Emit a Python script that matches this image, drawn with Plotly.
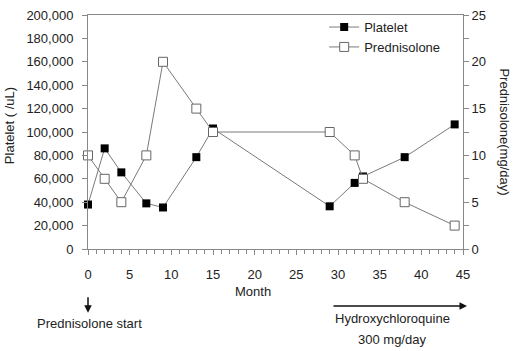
import plotly.graph_objects as go

months = [0, 2, 4, 7, 9, 13, 15, 29, 32, 33, 38, 44]
platelet = [38000, 86000, 65500, 39000, 35500, 78500, 103000, 36500, 56500, 62000, 78500, 106500]
prednisolone = [10, 7.5, 5, 10, 20, 15, 12.5, 12.5, 10, 7.5, 5, 2.5]

W, H = 514, 351
L, R, T, B = 87.5, 463, 8, 249.3

def px(x):
    return (x - L) / (R - L)

def py(y):
    return (B - y) / (B - T)

FONT = "Liberation Sans, Arial, sans-serif"
TXT = "#222222"
AX = "#888888"

fig = go.Figure()
fig.add_trace(go.Scatter(
    x=months, y=platelet, name="Platelet", mode="lines+markers",
    line=dict(color="#7a7a7a", width=1),
    marker=dict(symbol="square", size=8, color="#000000", line=dict(color="#000000", width=0)),
    cliponaxis=False, yaxis="y"))
fig.add_trace(go.Scatter(
    x=months, y=prednisolone, name="Prednisolone", mode="lines+markers",
    line=dict(color="#7a7a7a", width=1),
    marker=dict(symbol="square", size=9, color="#ffffff", line=dict(color="#666666", width=1)),
    cliponaxis=False, yaxis="y2"))

fig.update_layout(
    width=W, height=H,
    margin=dict(l=L, r=W - R, t=T, b=H - B, pad=0),
    paper_bgcolor="white", plot_bgcolor="white",
    font=dict(family=FONT, size=13, color=TXT),
    showlegend=True,
    legend=dict(x=px(324), y=py(5), xanchor="left", yanchor="top",
                bgcolor="rgba(0,0,0,0)", font=dict(size=13, color=TXT),
                itemwidth=30, tracegroupgap=0),
    xaxis=dict(range=[0, 45], dtick=5, tick0=0, showgrid=False, zeroline=False,
               showline=True, linecolor=AX, linewidth=1, mirror=True,
               ticks="outside", ticklen=5, tickcolor=AX, ticklabelstandoff=8,
               minor=dict(dtick=1, ticks="outside", ticklen=4, tickcolor=AX),
               tickfont=dict(size=13, color=TXT)),
    yaxis=dict(range=[0, 200000], dtick=20000, tickformat=",d", showgrid=False,
               zeroline=False, showline=True, linecolor=AX, linewidth=1,
               ticks="outside", ticklen=5, tickcolor=AX, ticklabelstandoff=6,
               tickfont=dict(size=13, color=TXT)),
    yaxis2=dict(range=[0, 25], dtick=5, overlaying="y", side="right",
                showgrid=False, zeroline=False, showline=True, linecolor=AX,
                linewidth=1, ticks="outside", ticklen=5, tickcolor=AX,
                minor=dict(dtick=2.5, ticks="outside", ticklen=5, tickcolor=AX),
                tickfont=dict(size=13, color=TXT)),
)

ann = [
    dict(text="Month", x=px(253), y=py(293)),
    dict(text="Prednisolone start", x=px(89), y=py(326)),
    dict(text="Hydroxychloroquine", x=px(392), y=py(321)),
    dict(text="300 mg/day", x=px(392), y=py(343)),
    dict(text="Platelet ( /uL)", x=px(9), y=py(122), textangle=-90),
    dict(text="Prednisolone(mg/day)", x=px(505), y=py(129), textangle=90),
]
for a in ann:
    fig.add_annotation(xref="paper", yref="paper", showarrow=False,
                       xanchor="center", yanchor="middle",
                       font=dict(size=13, color=TXT, family=FONT), **a)

# arrows
fig.add_annotation(xref="paper", yref="paper", x=px(87.5), y=py(315),
                   ax=0, ay=-17, axref="pixel", ayref="pixel", text="",
                   showarrow=True, arrowhead=2, arrowsize=1, arrowwidth=1.5,
                   arrowcolor="#111111")
fig.add_annotation(xref="paper", yref="paper", x=px(467), y=py(308),
                   ax=-135, ay=0, text="",
                   showarrow=True, arrowhead=2, arrowsize=1, arrowwidth=1.5,
                   arrowcolor="#111111")

fig.write_html("out.html")
